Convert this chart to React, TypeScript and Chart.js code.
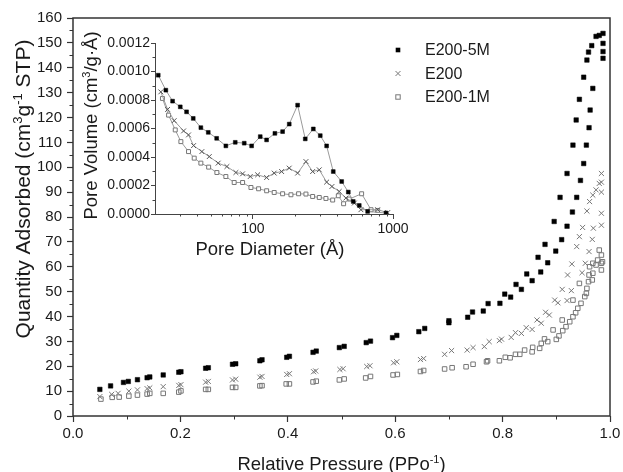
import React, { useEffect, useRef } from 'react';
import { Chart, registerables } from 'chart.js';

Chart.register(...registerables);

const FONT = 'Arial, "Liberation Sans", Helvetica, sans-serif';

// ---------- Main isotherm data (relative pressure, quantity adsorbed) ----------
const P_5M = [0.05,0.07,0.094,0.103,0.12,0.138,0.143,0.168,0.197,0.201,0.247,0.252,0.297,0.303,0.348,
  0.352,0.398,0.403,0.447,0.453,0.496,0.505,0.546,0.554,0.595,0.603,0.644,0.655,0.700,0.700,
  0.735,0.744,0.764,0.773,0.795,0.804,0.815,0.825,0.835,0.845,0.855,0.866,0.871,0.879,0.884,
  0.896,0.899,0.907,0.910,0.920,0.920,0.930,0.931,0.937,0.938,0.943,0.945,0.951,0.951,0.956,
  0.957,0.960,0.961,0.963,0.966,0.968,0.974,0.980,0.987,0.987,0.987,0.987];
const Q_5M = [10.7,12.1,13.5,13.9,14.6,15.4,15.7,16.5,17.6,17.8,19.2,19.4,20.8,21.0,22.2,
  22.6,23.6,24.0,25.6,26.1,27.5,28.0,29.5,30.1,31.5,32.4,33.9,35.2,37.5,38.3,
  39.7,41.8,42.2,45.2,45.3,49.0,47.8,52.9,50.9,57.1,54.4,63.8,57.9,69.0,61.6,
  78.2,66.3,87.9,70.9,97.5,76.3,82.0,108.9,119.0,87.9,127.3,94.7,136.2,101.5,108.9,
  143.1,146.3,115.9,123.0,148.9,131.7,152.6,153.0,153.8,149.8,146.5,143.8];

const P_E200 = [0.05,0.072,0.084,0.104,0.12,0.138,0.143,0.168,0.197,0.201,0.247,0.252,0.297,0.303,0.348,
  0.352,0.398,0.403,0.448,0.452,0.497,0.503,0.547,0.553,0.597,0.603,0.647,0.653,0.692,0.705,
  0.734,0.745,0.766,0.775,0.794,0.798,0.816,0.824,0.835,0.844,0.855,0.864,0.872,0.880,0.887,
  0.897,0.903,0.911,0.920,0.921,0.928,0.929,0.938,0.943,0.948,0.949,0.954,0.957,0.961,0.962,
  0.967,0.968,0.969,0.974,0.980,0.984,0.984,0.984,0.984,0.984];
const Q_E200 = [7.8,8.7,9.1,10.0,10.5,11.0,11.3,11.8,12.3,12.6,13.6,13.9,14.5,14.8,15.6,
  15.9,16.7,17.0,17.8,18.1,18.7,19.0,19.9,20.2,21.4,21.8,22.7,23.1,24.8,26.3,
  26.5,27.5,27.9,29.9,30.3,30.9,31.6,33.5,33.2,35.5,34.8,38.6,37.3,41.7,40.6,
  46.6,45.5,50.9,46.4,56.7,50.4,61.1,68.1,72.1,57.6,75.8,61.4,82.4,66.1,86.2,
  71.0,88.8,75.5,90.9,93.5,97.5,94.0,90.0,81.5,76.7];

const P_1M = [0.052,0.073,0.086,0.104,0.12,0.138,0.143,0.168,0.197,0.201,0.247,0.252,0.297,0.303,0.348,
  0.352,0.397,0.403,0.447,0.453,0.496,0.505,0.545,0.554,0.596,0.604,0.647,0.653,0.692,0.706,
  0.732,0.745,0.770,0.772,0.794,0.805,0.814,0.824,0.832,0.841,0.855,0.856,0.869,0.872,0.878,
  0.884,0.894,0.900,0.905,0.911,0.912,0.918,0.925,0.931,0.931,0.936,0.940,0.943,0.946,0.953,
  0.956,0.957,0.960,0.961,0.962,0.967,0.968,0.968,0.974,0.977,0.980,0.984,0.984,0.984,0.986];
const Q_1M = [6.8,7.5,7.6,8.0,8.4,8.8,9.1,9.1,9.6,10.1,10.7,10.7,11.5,11.5,12.1,
  12.2,12.9,12.9,13.7,14.0,14.5,14.9,15.3,15.9,16.5,16.7,17.9,18.3,18.9,19.4,
  19.8,20.8,21.8,22.2,22.2,23.6,23.4,24.8,24.8,26.5,25.8,27.6,27.2,29.2,31.0,
  29.9,34.6,30.8,32.2,38.6,34.3,35.9,37.9,46.6,39.9,41.5,43.3,53.3,45.3,48.0,
  49.3,51.3,54.0,56.7,60.0,54.7,57.4,61.4,60.7,62.7,66.7,64.7,61.4,58.7,62.0];

// ---------- Inset pore size distribution (pore diameter Å, pore volume) ----------
const D_5M = [21.1,23.9,26.7,30.3,33.6,37.5,42.5,48.0,55.1,64.1,74.8,86.7,97.9,112.8,125.2,
  143.5,162.9,181.7,208.5,236.4,269.9,302.6,335.9,374.6,430.3,479.7,520.4,574.4,659,891];
const V_5M = [0.000974,0.000869,0.000792,0.000752,0.000717,0.000671,0.000606,0.000573,0.000531,0.000478,
  0.000503,0.000497,0.000478,0.000543,0.000520,0.000566,0.000578,0.000631,0.000764,0.000527,
  0.000597,0.000550,0.000478,0.000298,0.000228,0.000154,0.000088,0.000060,0.000018,0.000007];

const D_E200 = [22.0,24.6,27.4,32.0,34.7,37.7,43.2,48.8,56.5,65.2,75.6,84.4,95.7,108.1,125.3,
  141.9,160.3,181.6,208.5,239.1,266.9,297.6,335.9,366.5,413,461,530,590,777,917];
const V_E200 = [0.000857,0.000734,0.000655,0.000583,0.000555,0.000480,0.000438,0.000403,0.000357,0.000333,
  0.000291,0.000282,0.000263,0.000275,0.000256,0.000287,0.000298,0.000322,0.000287,0.000368,
  0.000298,0.000310,0.000224,0.000193,0.000158,0.000112,0.000077,0.000030,0.000030,0.000010];

const D_1M = [22.6,25.0,27.9,30.6,34.7,38.1,42.5,48.3,55.3,64.1,73.5,84.4,96.8,109.8,125.3,
  141.9,162.9,186.8,211.9,239.1,266.9,297.6,332,371,407,444,487,597,697,777];
const V_1M = [0.000811,0.000694,0.000590,0.000508,0.000438,0.000392,0.000357,0.000329,0.000291,0.000263,
  0.000221,0.000221,0.000186,0.000177,0.000163,0.000151,0.000142,0.000135,0.000142,0.000140,
  0.000123,0.000116,0.000109,0.000098,0.000128,0.000072,0.000105,0.000142,0.000030,0.000025];

// ---------- Labels / ticks ----------
const SERIES_NAMES = ['E200-5M', 'E200', 'E200-1M'];
const MAIN_X_MINOR = [0.1, 0.3, 0.5, 0.7, 0.9];
const MAIN_Y_MINOR = [5, 15, 25, 35, 45, 55, 65, 75, 85, 95, 105, 115, 125, 135, 145, 155];
const INSET_X_MAJOR = [100, 1000];
const INSET_X_MINOR = [30, 40, 50, 60, 70, 80, 90, 200, 300, 400, 500, 600, 700, 800, 900];
const INSET_Y_MINOR = [0.0001, 0.0003, 0.0005, 0.0007, 0.0009, 0.0011];

type Part = { t: string; sup?: boolean };
const X_TITLE: Part[] = [{ t: 'Relative Pressure (PPo' }, { t: '-1', sup: true }, { t: ')' }];
const Y_TITLE: Part[] = [{ t: 'Quantity Adsorbed (cm' }, { t: '3', sup: true }, { t: 'g' }, { t: '-1', sup: true }, { t: ' STP)' }];
const INSET_Y_TITLE: Part[] = [{ t: 'Pore Volume (cm' }, { t: '3', sup: true }, { t: '/g·Å)' }];
const INSET_X_TITLE: Part[] = [{ t: 'Pore Diameter (Å)' }];

const pts = (xs: number[], ys: number[]) => xs.map((x, i) => ({ x, y: ys[i] }));

function drawRich(ctx: CanvasRenderingContext2D, parts: Part[], size: number, x: number, y: number, rot: number) {
  ctx.save();
  ctx.translate(x, y);
  ctx.rotate(rot);
  const sup = Math.round(size * 0.62);
  ctx.textBaseline = 'alphabetic';
  ctx.textAlign = 'left';
  ctx.fillStyle = '#1a1a1a';
  let total = 0;
  const ws = parts.map((p) => {
    ctx.font = `${p.sup ? sup : size}px ${FONT}`;
    const w = ctx.measureText(p.t).width;
    total += w;
    return w;
  });
  let cx = -total / 2;
  parts.forEach((p, i) => {
    ctx.font = `${p.sup ? sup : size}px ${FONT}`;
    ctx.fillText(p.t, cx, p.sup ? -size * 0.4 : 0);
    cx += ws[i];
  });
  ctx.restore();
}

function drawMarker(ctx: CanvasRenderingContext2D, kind: number, x: number, y: number) {
  ctx.save();
  if (kind === 0) {
    ctx.fillStyle = '#000';
    ctx.fillRect(x - 2.3, y - 2.3, 4.6, 4.6);
  } else if (kind === 1) {
    ctx.strokeStyle = '#777';
    ctx.lineWidth = 1;
    ctx.beginPath();
    ctx.moveTo(x - 2.5, y - 2.5); ctx.lineTo(x + 2.5, y + 2.5);
    ctx.moveTo(x - 2.5, y + 2.5); ctx.lineTo(x + 2.5, y - 2.5);
    ctx.stroke();
  } else {
    ctx.strokeStyle = '#777';
    ctx.lineWidth = 1;
    ctx.strokeRect(x - 2.2, y - 2.2, 4.4, 4.4);
  }
  ctx.restore();
}

const mainDecor = {
  id: 'mainDecor',
  afterDraw(chart: any) {
    const { ctx, chartArea: a, scales } = chart;
    ctx.save();
    ctx.strokeStyle = '#333';
    ctx.lineWidth = 1.5;
    ctx.strokeRect(a.left, a.top, a.right - a.left, a.bottom - a.top);
    ctx.lineWidth = 1;
    ctx.beginPath();
    MAIN_X_MINOR.forEach((v) => {
      const px = Math.round(scales.x.getPixelForValue(v)) + 0.5;
      ctx.moveTo(px, a.bottom); ctx.lineTo(px, a.bottom + 3.5);
    });
    MAIN_Y_MINOR.forEach((v) => {
      const py = Math.round(scales.y.getPixelForValue(v)) + 0.5;
      ctx.moveTo(a.left - 3.5, py); ctx.lineTo(a.left, py);
    });
    ctx.stroke();
    ctx.restore();

    drawRich(ctx, X_TITLE, 18.5, (a.left + a.right) / 2, chart.height - 2, 0);
    drawRich(ctx, Y_TITLE, 21, 30, 189, -Math.PI / 2);

    // legend
    ctx.save();
    SERIES_NAMES.forEach((name, i) => {
      const y = 50 + i * 23.5;
      drawMarker(ctx, i, 398, y);
      ctx.fillStyle = '#1a1a1a';
      ctx.font = `16px ${FONT}`;
      ctx.textBaseline = 'middle';
      ctx.textAlign = 'left';
      ctx.fillText(name, 425, y + 1);
    });
    ctx.restore();
  },
};

const insetDecor = {
  id: 'insetDecor',
  afterDraw(chart: any) {
    const { ctx, chartArea: a, scales } = chart;
    ctx.save();
    ctx.strokeStyle = '#444';
    ctx.lineWidth = 1;
    ctx.beginPath();
    INSET_X_MINOR.forEach((v) => {
      const px = Math.round(scales.x.getPixelForValue(v)) + 0.5;
      ctx.moveTo(px, a.bottom); ctx.lineTo(px, a.bottom + 2.5);
    });
    INSET_Y_MINOR.forEach((v) => {
      const py = Math.round(scales.y.getPixelForValue(v)) + 0.5;
      ctx.moveTo(a.left - 2.5, py); ctx.lineTo(a.left, py);
    });
    ctx.stroke();
    ctx.restore();
    drawRich(ctx, INSET_Y_TITLE, 18.5, 37, a.top + (a.bottom - a.top) / 2 - 3, -Math.PI / 2);
    drawRich(ctx, INSET_X_TITLE, 18.5, (a.left + a.right) / 2 - 4, 235, 0);
  },
};

const tickFont = (size: number) => ({ family: FONT, size });

export default function App() {
  const mainRef = useRef<HTMLCanvasElement>(null);
  const insetRef = useRef<HTMLCanvasElement>(null);

  useEffect(() => {
    const main = new Chart(mainRef.current as HTMLCanvasElement, {
      type: 'scatter',
      data: {
        datasets: [
          { label: SERIES_NAMES[0], data: pts(P_5M, Q_5M), pointStyle: 'rect', pointRadius: 3.2,
            pointBackgroundColor: '#000', pointBorderColor: '#000', pointBorderWidth: 0.5 },
          { label: SERIES_NAMES[1], data: pts(P_E200, Q_E200), pointStyle: 'crossRot', pointRadius: 3.6,
            pointBorderColor: '#777', pointBorderWidth: 1 },
          { label: SERIES_NAMES[2], data: pts(P_1M, Q_1M), pointStyle: 'rect', pointRadius: 3.2,
            pointBackgroundColor: 'rgba(255,255,255,0)', pointBorderColor: '#777', pointBorderWidth: 1 },
        ],
      } as any,
      options: {
        responsive: false,
        animation: false,
        events: [],
        layout: { padding: { top: 18, right: 13, left: 0, bottom: 0 } },
        plugins: { legend: { display: false }, tooltip: { enabled: false } },
        scales: {
          x: {
            type: 'linear', min: 0, max: 1,
            afterFit: (s: any) => { s.height = 56; s.paddingLeft = 0; s.paddingRight = 0; },
            ticks: { stepSize: 0.2, callback: (v: any) => Number(v).toFixed(1), font: tickFont(15),
              color: '#1a1a1a', padding: 3, maxRotation: 0, autoSkip: false },
            grid: { drawOnChartArea: false, tickLength: 6, color: '#333', tickWidth: 1.2 },
            border: { display: false },
          },
          y: {
            type: 'linear', min: 0, max: 160,
            afterFit: (s: any) => { s.width = 73; s.paddingTop = 0; s.paddingBottom = 0; },
            ticks: { stepSize: 10, font: tickFont(15), color: '#1a1a1a', padding: 5, autoSkip: false },
            grid: { drawOnChartArea: false, tickLength: 6, color: '#333', tickWidth: 1.2 },
            border: { display: false },
          },
        },
      } as any,
      plugins: [mainDecor],
    });

    const inset = new Chart(insetRef.current as HTMLCanvasElement, {
      type: 'scatter',
      data: {
        datasets: [
          { label: SERIES_NAMES[0], data: pts(D_5M, V_5M), showLine: true, borderColor: '#9a9a9a', borderWidth: 1,
            pointStyle: 'rect', pointRadius: 2.7, pointBackgroundColor: '#000', pointBorderColor: '#000', pointBorderWidth: 0.5 },
          { label: SERIES_NAMES[1], data: pts(D_E200, V_E200), showLine: true, borderColor: '#9a9a9a', borderWidth: 1,
            pointStyle: 'crossRot', pointRadius: 3.4, pointBorderColor: '#555', pointBorderWidth: 1 },
          { label: SERIES_NAMES[2], data: pts(D_1M, V_1M), showLine: true, borderColor: '#9a9a9a', borderWidth: 1,
            pointStyle: 'rect', pointRadius: 2.8, pointBackgroundColor: '#fff', pointBorderColor: '#777', pointBorderWidth: 1 },
        ],
      } as any,
      options: {
        responsive: false,
        animation: false,
        events: [],
        layout: { padding: { top: 23, right: 17, left: 0, bottom: 0 } },
        plugins: { legend: { display: false }, tooltip: { enabled: false } },
        scales: {
          x: {
            type: 'logarithmic', min: 20, max: 1000,
            afterBuildTicks: (s: any) => { s.ticks = INSET_X_MAJOR.map((v) => ({ value: v })); },
            afterFit: (s: any) => { s.height = 51; s.paddingLeft = 0; s.paddingRight = 0; },
            ticks: { callback: (v: any) => String(v), font: tickFont(14), color: '#1a1a1a', padding: 2,
              maxRotation: 0, autoSkip: false },
            grid: { drawOnChartArea: false, tickLength: 5, color: '#444' },
            border: { display: true, color: '#444', width: 1 },
          },
          y: {
            type: 'linear', min: 0, max: 0.0012,
            afterFit: (s: any) => { s.width = 95; s.paddingTop = 0; s.paddingBottom = 0; },
            ticks: { stepSize: 0.0002, callback: (v: any) => Number(v).toFixed(4), font: tickFont(14),
              color: '#1a1a1a', padding: 1, autoSkip: false },
            grid: { drawOnChartArea: false, tickLength: 4, color: '#444' },
            border: { display: true, color: '#444', width: 1 },
          },
        },
      } as any,
      plugins: [insetDecor],
    });

    return () => {
      main.destroy();
      inset.destroy();
    };
  }, []);

  return (
    <div style={{ position: 'absolute', left: 0, top: 0, width: 623, height: 472, background: '#fff' }}>
      <canvas ref={mainRef} width={623} height={472} style={{ position: 'absolute', left: 0, top: 0 }} />
      <canvas ref={insetRef} width={350} height={245} style={{ position: 'absolute', left: 60, top: 20 }} />
    </div>
  );
}
